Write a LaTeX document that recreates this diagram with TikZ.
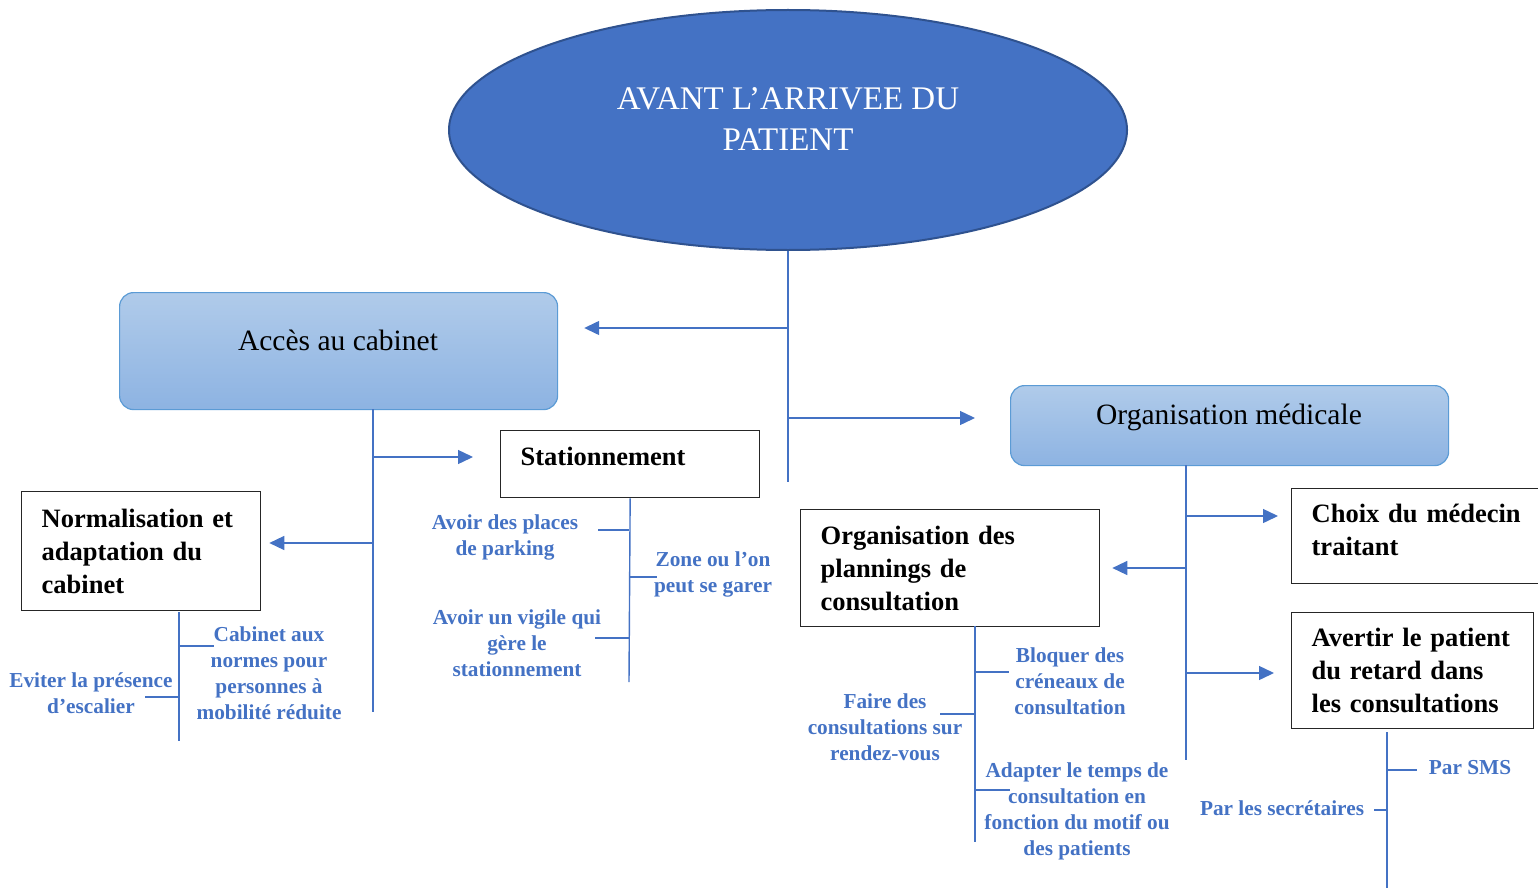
\documentclass[tikz,border=0pt]{standalone}
\usepackage{fontspec}
\setmainfont{Liberation Serif}
\usetikzlibrary{arrows.meta,shapes.geometric,positioning}

\definecolor{bleu}{HTML}{4472C4}
\definecolor{bleufonce}{HTML}{2F528F}
\definecolor{bleuclair}{HTML}{5B9BD5}
\definecolor{degrhaut}{HTML}{B0CBEA}
\definecolor{degrbas}{HTML}{8DB3E2}

\tikzset{
  trait/.style={draw=bleu, line width=1.4pt},
  fleche/.style={trait, -{Triangle[length=15pt,width=14pt]}},
  bloc/.style={draw=bleuclair, line width=1.2pt, rounded corners=14pt,
    top color=degrhaut, bottom color=degrbas, minimum width=438, anchor=north west},
  blocnom/.style={font=\fontsize{29.5}{35}\selectfont},
  cadre/.style={draw=black!85, line width=1.3pt, anchor=north west, align=left,
    inner xsep=20pt, font=\bfseries\fontsize{26.5}{33}\selectfont},
  etiq/.style={text=bleu, font=\bfseries\fontsize{21.3}{26}\selectfont, align=center, inner sep=0pt}
}

\begin{document}
\begin{tikzpicture}[x=1pt, y=-1pt]
  \useasboundingbox (0,0) rectangle (1538,888);

  % titre
  \node[ellipse, fill=bleu, draw=bleufonce, line width=2pt,
        minimum width=678, minimum height=240] (titre) at (788,130) {};
  \node[text=white, align=center, font=\fontsize{33}{41}\selectfont] (titre-t) at (788,119)
        {AVANT L’ARRIVEE DU\\PATIENT};

  % blocs principaux
  \node[bloc, minimum height=117] (acces) at (119,292) {};
  \node[blocnom] (acces-t) at (338,340) {Accès au cabinet};
  \node[bloc, minimum height=80] (orgmed) at (1010,385) {};
  \node[blocnom] (orgmed-t) at (1229,417) {Organisation médicale};

  % cadres
  \node[cadre, text width=199, minimum height=119] (norm) at (21,491)
        {Normalisation et\\adaptation du\\cabinet};
  \node[cadre, text width=219, minimum height=67] (stat) at (500,430)
        {Stationnement\\[-17pt]\mbox{}};
  \node[cadre, text width=259, minimum height=117] (plan) at (800,509)
        {Organisation des\\plannings de\\consultation};
  \node[cadre, text width=210, minimum height=95] (choix) at (1291,488)
        {Choix du médecin\\traitant\\[-20pt]\mbox{}};
  \node[cadre, text width=202, minimum height=116] (avert) at (1291,612)
        {Avertir le patient\\du retard dans\\les consultations};

  % etiquettes
  \node[etiq] (parking) at (505,537) {Avoir des places\\de parking};
  \node[etiq] (zone) at (713,574) {Zone ou l’on\\peut se garer};
  \node[etiq] (vigile) at (517,643) {Avoir un vigile qui\\gère le\\stationnement};
  \node[etiq] (normes) at (269,673) {Cabinet aux\\normes pour\\personnes à\\mobilité réduite};
  \node[etiq] (escalier) at (91,693) {Eviter la présence\\d’escalier};
  \node[etiq] (bloquer) at (1070,681) {Bloquer des\\créneaux de\\consultation};
  \node[etiq] (rdv) at (885,727) {Faire des\\consultations sur\\rendez-vous};
  \node[etiq] (adapter) at (1077,811) {Adapter le temps de\\consultation en\\fonction du motif ou\\des patients};
  \node[etiq] (sms) at (1470,768) {Par SMS};
  \node[etiq] (secr) at (1282,808) {Par les secrétaires};

  % tronc principal
  \coordinate (t-bas) at (788,482);
  \coordinate (t-a) at (788,328);
  \coordinate (t-o) at (788,418);
  \draw[trait] (titre.south) -- (t-bas);
  \draw[fleche, shorten >=26pt] (t-a) -- (t-a -| acces.east);
  \draw[fleche, shorten >=35pt] (t-o) -- (t-o -| orgmed.west);

  % acces au cabinet
  \coordinate (a-haut) at (373,409);
  \coordinate (a-bas) at (373,712);
  \coordinate (a-s) at (373,457);
  \coordinate (a-n) at (373,543);
  \draw[trait] (a-haut) -- (a-bas);
  \draw[fleche, shorten >=27pt] (a-s) -- (a-s -| stat.west);
  \draw[fleche, shorten >=8pt] (a-n) -- (a-n -| norm.east);

  % stationnement
  \coordinate (s-bas) at (629,682);
  \draw[trait] (stat.south) -- (s-bas);
  \draw[trait] (629,530) -- ++(-31,0);
  \draw[trait] (629,577) -- ++(28,0);
  \draw[trait] (629,638) -- ++(-34,0);

  % normalisation
  \coordinate (n-haut) at (179,612);
  \coordinate (n-bas) at (179,741);
  \draw[trait] (n-haut) -- (n-bas);
  \draw[trait] (179,646) -- ++(35,0);
  \draw[trait] (179,697) -- ++(-34,0);

  % organisation medicale
  \coordinate (o-haut) at (1186,465);
  \coordinate (o-bas) at (1186,760);
  \coordinate (o-c) at (1186,516);
  \coordinate (o-p) at (1186,568);
  \coordinate (o-a) at (1186,673);
  \draw[trait] (o-haut) -- (o-bas);
  \draw[fleche, shorten >=13pt] (o-c) -- (o-c -| choix.west);
  \draw[fleche, shorten >=12pt] (o-p) -- (o-p -| plan.east);
  \draw[fleche, shorten >=17pt] (o-a) -- (o-a -| avert.west);

  % plannings
  \coordinate (p-haut) at (975,626);
  \coordinate (p-bas) at (975,842);
  \draw[trait] (p-haut) -- (p-bas);
  \draw[trait] (975,672) -- ++(34,0);
  \draw[trait] (975,714) -- ++(-35,0);
  \draw[trait] (975,790) -- ++(35,0);

  % avertir
  \coordinate (v-haut) at (1387,732);
  \coordinate (v-bas) at (1387,888);
  \draw[trait] (v-haut) -- (v-bas);
  \draw[trait] (1387,770) -- ++(30,0);
  \draw[trait] (1387,810) -- ++(-13,0);
\end{tikzpicture}
\end{document}
